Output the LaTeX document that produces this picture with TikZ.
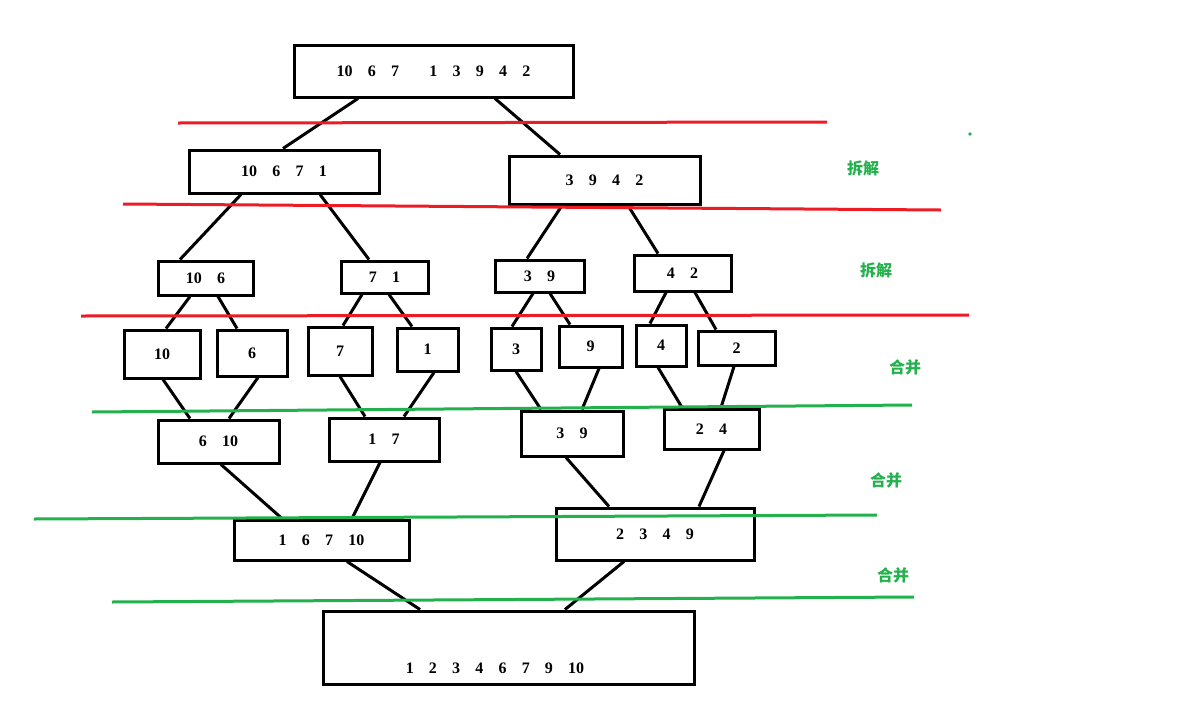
\documentclass[tikz,border=0pt]{standalone}
\usepackage{fontspec}
\setmainfont{Liberation Serif}
\newfontfamily\cjk{Noto Sans CJK SC}
\definecolor{gr}{HTML}{22B14C}
\definecolor{rd}{HTML}{ED1C24}
\newcommand\gapx{\hspace{0.95em}}
\begin{document}
\begin{tikzpicture}[x=1pt,y=-1pt,
  bx/.style={draw,line width=3pt,inner sep=0pt,font=\bfseries\fontsize{16}{16}\selectfont},
  ln/.style={line width=3pt},
  rl/.style={line width=3pt,draw=rd},
  gl/.style={line width=3pt,draw=gr},
  lab/.style={text=gr,font=\cjk\bfseries\fontsize{16}{16}\selectfont}]
\useasboundingbox[fill=white] (0,0) rectangle (1179,726);
\def\B#1#2#3#4#5#6{\node[bx,minimum width=#4pt,minimum height=#5pt] (#1) at (#2,#3) {#6};}
\B{top}{433.5}{71}{279}{52}{10\gapx 6\gapx 7\gapx\gapx 1\gapx 3\gapx 9\gapx 4\gapx 2}
\B{a}{284}{171.5}{190}{43}{10\gapx 6\gapx 7\gapx 1}
\B{b}{604.5}{180}{191}{48}{3\gapx 9\gapx 4\gapx 2}
\B{c}{205.5}{278}{95}{34}{10\gapx 6}
\B{d}{384.5}{277}{87}{32}{7\gapx 1}
\B{e}{539.5}{276}{89}{32}{3\gapx 9}
\B{f}{682.5}{273}{97}{36}{4\gapx 2}
\B{g}{162}{354}{76}{48}{10}
\B{h}{252}{353}{70}{46}{6}
\B{i}{340}{351}{64}{48}{7}
\B{j}{427.5}{349.5}{61}{43}{1}
\B{k}{516}{349}{50}{42}{3}
\B{l}{590.5}{346.5}{63}{41}{9}
\B{m}{661}{345.5}{50}{41}{4}
\B{n}{736.5}{348}{77}{34}{2}
\B{o}{218.5}{441.5}{121}{43}{6\gapx 10}
\B{p}{384}{439.5}{110}{43}{1\gapx 7}
\B{q}{572}{433.5}{102}{45}{3\gapx 9}
\B{r}{711.5}{429}{95}{40}{2\gapx 4}
\B{s}{321.5}{540}{175}{40}{1\gapx 6\gapx 7\gapx 10}
\B{t}{655}{534}{198}{52}{2\gapx 3\gapx 4\gapx 9}
\node[bx,minimum width=371pt,minimum height=73pt] (u) at (508.5,647.5) {};
\node[font=\bfseries\fontsize{16}{16}\selectfont] (ut) at (495,668) {1\gapx 2\gapx 3\gapx 4\gapx 6\gapx 7\gapx 9\gapx 10};
\def\C#1#2#3#4{\draw[ln] ([xshift=#2pt]#1.south) -- ([xshift=#4pt]#3.north);}
\C{top}{-75.5}{a}{-1}\C{top}{61.5}{b}{-44.5}
\C{a}{-43}{c}{-25.5}\C{a}{36}{d}{-15.5}
\C{b}{-42.5}{e}{-12.5}\C{b}{23.5}{f}{-24.5}
\C{c}{-15.5}{g}{4}\C{c}{12.5}{h}{-15}
\C{d}{-22.5}{i}{3}\C{d}{4.5}{j}{-15.5}
\C{e}{-6.5}{k}{-4}\C{e}{10.5}{l}{-20.5}
\C{f}{-16.5}{m}{-11}\C{f}{12.5}{n}{-20.5}
\C{g}{1}{o}{-28.5}\C{h}{6}{o}{10.5}
\C{i}{0}{p}{-19}\C{j}{6.5}{p}{20}
\C{k}{0}{q}{-31}\C{l}{8.5}{q}{10}
\C{m}{-3}{r}{-29.5}\C{n}{-2.5}{r}{9.5}
\C{o}{2.5}{s}{-39.5}\C{p}{-4}{s}{30.5}
\C{q}{-6}{t}{-46}\C{r}{12.5}{t}{44}
\C{s}{25.5}{u}{-88.5}\C{t}{-31}{u}{56.5}
\draw[rl] (178,123) -- (827,122);
\draw[rl] (123,204) -- (941,210);
\draw[rl] (81,316) -- (969,315);
\draw[gl] (92,412) -- (912,405);
\draw[gl] (34,519) -- (877,515);
\draw[gl] (112,602) -- (914,597);
\node[lab] (l1) at (863,168) {拆解};
\node[lab] (l2) at (876,270) {拆解};
\node[lab] (l3) at (905,367) {合并};
\node[lab] (l4) at (886,480) {合并};
\node[lab] (l5) at (893,575) {合并};
\fill[gr] (970,134) circle (1.8);
\end{tikzpicture}
\end{document}
